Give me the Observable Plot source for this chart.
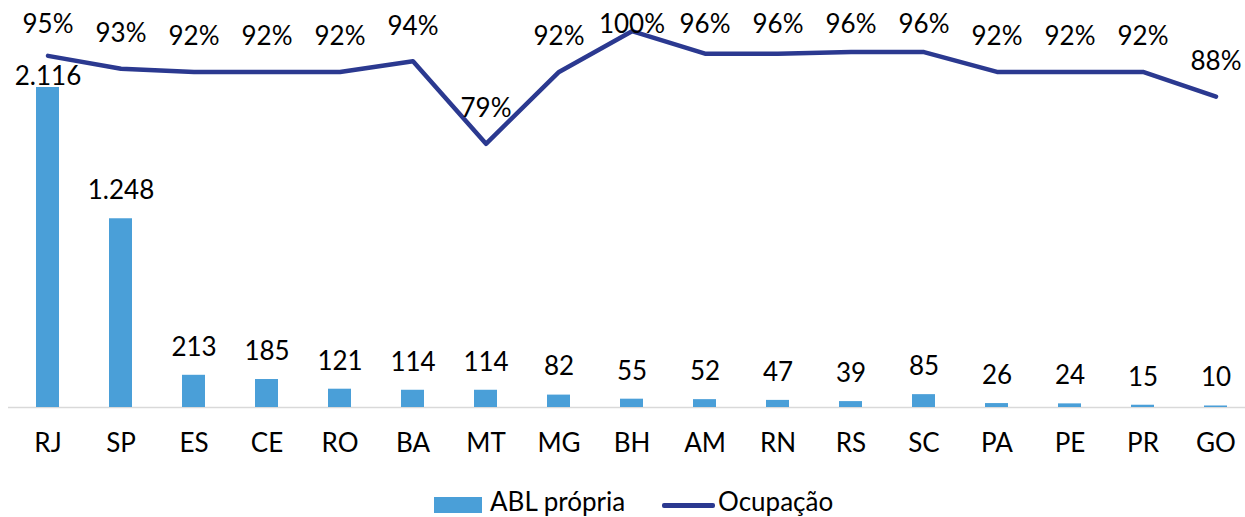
<!DOCTYPE html>
<html><head><meta charset="utf-8">
<script src="https://cdn.jsdelivr.net/npm/d3@7"></script>
<script src="https://cdn.jsdelivr.net/npm/@observablehq/plot@0.6"></script>
<style>
body{margin:0;background:#fff;font-family:Lato,sans-serif;}
#wrap{position:relative;width:1245px;height:475px;}
#wrap svg{position:absolute;left:0;top:0;}
#legend{position:relative;height:42px;width:1245px;font-size:26px;color:#000;overflow:hidden;}
#legend span{position:absolute;}
</style></head><body>
<div id="wrap"></div>
<div id="legend">
  <span style="left:434px;top:22px;width:48px;height:16px;background:#4A9FD8"></span>
  <span style="left:490px;top:12px;line-height:29px;">ABL própria</span>
  <span style="left:662px;top:28px;width:53px;height:4.5px;border-radius:2px;background:#2B3990"></span>
  <span style="left:718px;top:12px;line-height:29px;">Ocupação</span>
</div>
<script>
const categories = ["RJ","SP","ES","CE","RO","BA","MT","MG","BH","AM","RN","RS","SC","PA","PE","PR","GO"];
const ablPropria = [2116,1248,213,185,121,114,114,82,55,52,47,39,85,26,24,15,10];
const ocupacao = [95.4,93.0,92.4,92.4,92.4,94.4,79.0,92.4,100,95.8,95.8,96.1,96.1,92.4,92.4,92.4,87.8];

const data = categories.map((c,i)=>({cat:c, abl:ablPropria[i], occ:ocupacao[i]}));
const W=1245, H=475;
const ptBR = d3.formatLocale({decimal:",",thousands:".",grouping:[3],currency:["R$",""]}).format(",d");
const xScale = {type:"band", domain:categories, range:[9,1254], paddingInner:0.686, paddingOuter:0.343, align:0.5};
const common = {width:W, height:H, marginLeft:8, marginRight:0, marginTop:0, marginBottom:68,
  style:{fontFamily:"Lato, sans-serif", fontSize:"26px", color:"#000", background:"transparent", overflow:"visible"}};

const bars = Plot.plot({...common,
  x:{...xScale},
  y:{domain:[0,2116], range:[407,87], axis:null},
  marks:[
    Plot.ruleY([0],{stroke:"#d9d9d9",strokeWidth:1.5}),
    Plot.barY(data,{x:"cat",y:"abl",fill:"#4A9FD8"}),
    Plot.axisX({tickSize:0, tickPadding:26, fontSize:26, fill:"#000", label:null}),
    Plot.text(data,{x:"cat", y:d=>Math.min(d.abl,2000), text:d=>ptBR(d.abl), dy:-28, fontSize:26, fill:"#000"})
  ]});

const line = Plot.plot({...common,
  x:{...xScale, axis:null},
  y:{domain:[79,100], range:[143.3,30.7], axis:null},
  marks:[
    Plot.lineY(data,{x:"cat", y:"occ", stroke:"#2B3990", strokeWidth:4.5, strokeLinejoin:"round", strokeLinecap:"round"}),
    Plot.text(data,{x:"cat", y:d=>Math.min(d.occ,94.7), text:d=>Math.round(d.occ)+"%", dy:-35, fontSize:26, fill:"#000"})
  ]});

const wrap = document.getElementById("wrap");
wrap.appendChild(bars);
wrap.appendChild(line);
</script>
</body></html>
